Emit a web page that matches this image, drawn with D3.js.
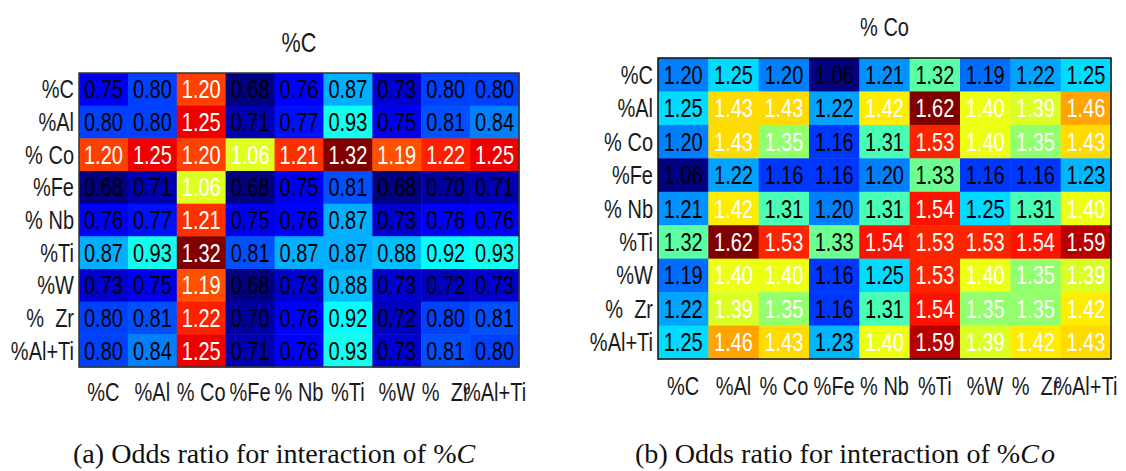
<!DOCTYPE html>
<html>
<head>
<meta charset="utf-8">
<script src="https://cdn.jsdelivr.net/npm/d3@7"></script>
<style>
  html, body { margin: 0; padding: 0; background: #fff; }
  svg { display: block; }
</style>
</head>
<body>
<svg id="chart" width="1126" height="471"></svg>
<script>
// Row / column labels shared by both matrices
const rowLabels = ["%C", "%Al", "% Co", "%Fe", "% Nb", "%Ti", "%W", "%  Zr", "%Al+Ti"];
const colLabels = ["%C", "%Al", "% Co", "%Fe", "% Nb", "%Ti", "%W", "%  Zr", "%Al+Ti"];

// Odds ratios, interaction of %C (rows follow rowLabels)
const oddsC = [
  [0.75, 0.80, 1.20, 0.68, 0.76, 0.87, 0.73, 0.80, 0.80],
  [0.80, 0.80, 1.25, 0.71, 0.77, 0.93, 0.75, 0.81, 0.84],
  [1.20, 1.25, 1.20, 1.06, 1.21, 1.32, 1.19, 1.22, 1.25],
  [0.68, 0.71, 1.06, 0.68, 0.75, 0.81, 0.68, 0.70, 0.71],
  [0.76, 0.77, 1.21, 0.75, 0.76, 0.87, 0.73, 0.76, 0.76],
  [0.87, 0.93, 1.32, 0.81, 0.87, 0.87, 0.88, 0.92, 0.93],
  [0.73, 0.75, 1.19, 0.68, 0.73, 0.88, 0.73, 0.72, 0.73],
  [0.80, 0.81, 1.22, 0.70, 0.76, 0.92, 0.72, 0.80, 0.81],
  [0.80, 0.84, 1.25, 0.71, 0.76, 0.93, 0.73, 0.81, 0.80]
];

// Odds ratios, interaction of %Co
const oddsCo = [
  [1.20, 1.25, 1.20, 1.06, 1.21, 1.32, 1.19, 1.22, 1.25],
  [1.25, 1.43, 1.43, 1.22, 1.42, 1.62, 1.40, 1.39, 1.46],
  [1.20, 1.43, 1.35, 1.16, 1.31, 1.53, 1.40, 1.35, 1.43],
  [1.06, 1.22, 1.16, 1.16, 1.20, 1.33, 1.16, 1.16, 1.23],
  [1.21, 1.42, 1.31, 1.20, 1.31, 1.54, 1.25, 1.31, 1.40],
  [1.32, 1.62, 1.53, 1.33, 1.54, 1.53, 1.53, 1.54, 1.59],
  [1.19, 1.40, 1.40, 1.16, 1.25, 1.53, 1.40, 1.35, 1.39],
  [1.22, 1.39, 1.35, 1.16, 1.31, 1.54, 1.35, 1.35, 1.42],
  [1.25, 1.46, 1.43, 1.23, 1.40, 1.59, 1.39, 1.42, 1.43]
];

// jet colormap stops
const jetStops = [0, 0.125, 0.375, 0.625, 0.875, 1];
const jetColors = ["#000080", "#0000ff", "#00ffff", "#ffff00", "#ff0000", "#800000"];

const svg = d3.select("#chart");
const labelFont = "'Liberation Sans', Arial, sans-serif";
const sx = 0.8; // horizontal squeeze of the sans-serif lettering

function drawHeatmap(opts) {
  const { matrix, title, box, titleY, titleSize, xLabelY, whiteAbove, frameColor } = opts;
  const g = svg.append("g");

  const x = d3.scaleBand().domain(d3.range(colLabels.length)).range([box.x0, box.x1]);
  const y = d3.scaleBand().domain(d3.range(rowLabels.length)).range([box.y0, box.y1]);

  const flat = matrix.flat();
  const lo = d3.min(flat), hi = d3.max(flat);
  const color = d3.scaleLinear()
    .domain(jetStops.map(t => lo + t * (hi - lo)))
    .range(jetColors)
    .clamp(true);

  const cells = [];
  matrix.forEach((row, i) => row.forEach((v, j) => cells.push({ i, j, v })));

  g.selectAll("rect.cell").data(cells).join("rect")
    .attr("class", "cell")
    .attr("x", d => x(d.j))
    .attr("y", d => y(d.i))
    .attr("width", x.bandwidth() + 0.5)
    .attr("height", y.bandwidth() + 0.5)
    .attr("fill", d => color(d.v));

  g.selectAll("text.val").data(cells).join("text")
    .attr("class", "val")
    .attr("transform", d => `translate(${x(d.j) + x.bandwidth() / 2},${y(d.i) + y.bandwidth() / 2}) scale(${sx},1)`)
    .attr("text-anchor", "middle")
    .attr("dy", "0.36em")
    .style("font-family", labelFont)
    .style("font-size", "25px")
    .attr("fill", d => d.v > whiteAbove ? "#ffffff" : "#000000")
    .text(d => d.v.toFixed(2));

  g.append("rect")
    .attr("x", box.x0).attr("y", box.y0)
    .attr("width", box.x1 - box.x0).attr("height", box.y1 - box.y0)
    .attr("fill", "none")
    .attr("stroke", frameColor)
    .attr("stroke-width", 1.5);

  // row labels
  g.selectAll("text.ylab").data(rowLabels).join("text")
    .attr("class", "ylab")
    .attr("transform", (d, i) => `translate(${box.x0 - 5},${y(i) + y.bandwidth() / 2}) scale(${sx},1)`)
    .attr("text-anchor", "end")
    .attr("dy", "0.36em")
    .style("font-family", labelFont)
    .style("font-size", "25px")
    .style("white-space", "pre")
    .attr("fill", "#1a1a1a")
    .text(d => d);

  // column labels
  g.selectAll("text.xlab").data(colLabels).join("text")
    .attr("class", "xlab")
    .attr("transform", (d, j) => `translate(${x(j) + x.bandwidth() / 2},${xLabelY}) scale(${sx},1)`)
    .attr("text-anchor", "middle")
    .attr("dy", "0.36em")
    .style("font-family", labelFont)
    .style("font-size", "25px")
    .style("white-space", "pre")
    .attr("fill", "#1a1a1a")
    .text(d => d);

  g.append("text")
    .attr("transform", `translate(${(box.x0 + box.x1) / 2},${titleY}) scale(${sx},1)`)
    .attr("text-anchor", "middle")
    .attr("dy", "0.36em")
    .style("font-family", labelFont)
    .style("font-size", titleSize + "px")
    .style("white-space", "pre")
    .attr("fill", "#1a1a1a")
    .text(title);
}

drawHeatmap({
  matrix: oddsC, title: "%C",
  box: { x0: 79, x1: 519, y0: 73, y1: 367 },
  titleY: 42, titleSize: 27, xLabelY: 392,
  whiteAbove: 1.0, frameColor: "#333333"
});

drawHeatmap({
  matrix: oddsCo, title: "% Co",
  box: { x0: 658, x1: 1111, y0: 58, y1: 359 },
  titleY: 27, titleSize: 25, xLabelY: 386,
  whiteAbove: 1.34, frameColor: "#111111"
});

// sub-figure captions
const captions = [
  { x: 73, lead: "(a) Odds ratio for interaction of %", ital: "C" },
  { x: 635, lead: "(b) Odds ratio for interaction of %", ital: "Co" }
];
captions.forEach(c => {
  const t = svg.append("text")
    .attr("transform", `translate(${c.x},463) scale(1.06,1)`)
    .style("font-family", "'Liberation Serif', 'Times New Roman', serif")
    .style("font-size", "26.5px")
    .attr("fill", "#111");
  t.append("tspan").text(c.lead);
  t.append("tspan").style("font-style", "italic").attr("letter-spacing", "2").text(c.ital);
});
</script>
</body>
</html>
